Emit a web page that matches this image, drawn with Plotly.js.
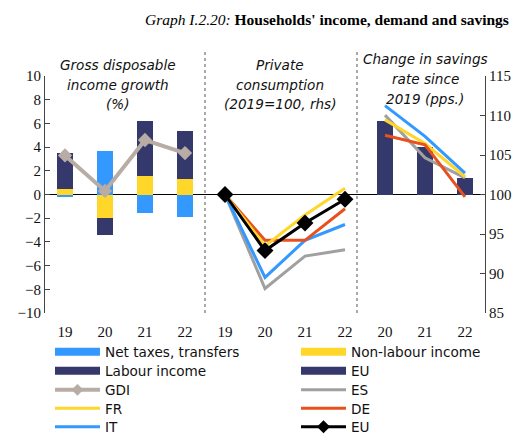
<!DOCTYPE html>
<html><head><meta charset="utf-8">
<script src="https://cdn.plot.ly/plotly-3.0.1.min.js"></script>
<style>html,body{margin:0;padding:0;background:#fff;} #chart{width:527px;height:436px;}</style>
</head><body><div id="chart"></div>
<script>
// Panel 1: Gross disposable income growth (%)
const gdiYears = ['19','20','21','22'];
const netTaxes = [-0.2, 3.7, -1.6, -1.9];
const nonLabour = [0.5, -2.0, 1.6, 1.3];
const labour = [3.0, -1.4, 4.6, 4.1];
const gdi = [3.3, 0.3, 4.6, 3.5];

// Panel 2: Private consumption (2019=100, rhs)
const consYears = ['19','20','21','22'];
const consES = [100, 88.1, 92.2, 93.0];
const consFR = [100, 93.5, 97.4, 100.8];
const consDE = [100, 94.2, 94.2, 98.2];
const consIT = [100, 89.5, 94.2, 96.2];
const consEU = [100, 92.9, 96.4, 99.4];

// Panel 3: Change in savings rate since 2019 (pps.)
const savYears = ['20','21','22'];
const savEU = [6.2, 4.0, 1.4];
const savES = [6.7, 3.1, 1.4];
const savFR = [6.3, 4.3, 1.5];
const savDE = [5.0, 4.2, -0.2];
const savIT = [7.5, 4.9, 1.8];

const C = {blue:'#3399ff', yellow:'#ffd62a', navy:'#34386b', gdi:'#b8aca4', es:'#a0a0a0', de:'#e8511e', eu:'#000000'};

// panel slot offsets on a shared category axis
const off1 = 0, off2 = gdiYears.length, off3 = gdiYears.length + consYears.length;
const xs = (arr, off) => arr.map((_, i) => i + off);
const x1 = xs(gdiYears, off1), x2 = xs(consYears, off2), x3 = xs(savYears, off3);
const tickvals = x1.concat(x2, x3);
const ticktext = gdiYears.concat(consYears, savYears);

const LW = 3;
const traces = [];
const px = p => (p - 45) / 440;
const py = p => (313 - p) / 237;
const legFont = {family:'DejaVu Sans, sans-serif', size:13.6, color:'#111'};
const legends = {};
const legCols = [50, 296];
const legRows = [352, 371, 390, 408.5, 427];
let legN = 0;
// legend-only proxies (wide rectangles / lines), each entry placed in its own legend box
function proxy(name, color, width, col, row, extra) {
  legN += 1;
  const key = legN === 1 ? 'legend' : 'legend' + legN;
  legends[key] = {orientation:'v', x:px(legCols[col]), y:py(legRows[row]), xanchor:'left', yanchor:'middle',
    itemwidth:45, font:legFont, bgcolor:'rgba(0,0,0,0)', borderwidth:0};
  return Object.assign({type:'scatter', mode:'lines', x:[null], y:[null], name:name, legend:key,
    line:{color:color, width:width}, hoverinfo:'skip'}, extra||{});
}
traces.push(proxy('Net taxes, transfers', C.blue, 8, 0, 0));
traces.push(proxy('Non-labour income', C.yellow, 8, 1, 0));
traces.push(proxy('Labour income', C.navy, 8, 0, 1));
traces.push(proxy('EU', C.navy, 8, 1, 1));
traces.push(proxy('GDI', C.gdi, 4, 0, 2, {mode:'lines+markers', marker:{symbol:'diamond', size:9, color:C.gdi}}));
traces.push(proxy('ES', C.es, LW, 1, 2));
traces.push(proxy('FR', C.yellow, LW, 0, 3));
traces.push(proxy('DE', C.de, LW, 1, 3));
traces.push(proxy('IT', C.blue, LW, 0, 4));
traces.push(proxy('EU', C.eu, LW, 1, 4, {mode:'lines+markers', marker:{symbol:'diamond', size:10, color:C.eu}}));

// bars panel 1
const barW = 0.4;
traces.push({type:'bar', x:x1, y:netTaxes, width:barW, marker:{color:C.blue}, showlegend:false});
traces.push({type:'bar', x:x1, y:nonLabour, width:barW, marker:{color:C.yellow}, showlegend:false});
traces.push({type:'bar', x:x1, y:labour, width:barW, marker:{color:C.navy}, showlegend:false});
// bars panel 3
traces.push({type:'bar', x:x3, y:savEU, width:barW, marker:{color:C.navy}, showlegend:false});

// GDI line
traces.push({type:'scatter', mode:'lines+markers', x:x1, y:gdi, line:{color:C.gdi, width:4},
  marker:{symbol:'diamond', size:11, color:C.gdi}, showlegend:false});

// panel 3 lines (lhs)
[[savES,C.es],[savFR,C.yellow],[savDE,C.de],[savIT,C.blue]].forEach(([d,c]) => {
  traces.push({type:'scatter', mode:'lines', x:x3, y:d, line:{color:c, width:LW}, showlegend:false});
});

// panel 2 lines (rhs)
[[consES,C.es],[consIT,C.blue],[consDE,C.de],[consFR,C.yellow]].forEach(([d,c]) => {
  traces.push({type:'scatter', mode:'lines', x:x2, y:d, yaxis:'y2', line:{color:c, width:LW}, showlegend:false});
});
traces.push({type:'scatter', mode:'lines+markers', x:x2, y:consEU, yaxis:'y2', line:{color:C.eu, width:LW},
  marker:{symbol:'diamond', size:13, color:C.eu}, showlegend:false});

const annFont = {family:'DejaVu Sans, sans-serif', size:13.6, color:'#111'};
const anns = [];
function panelTitle(lines, xp, ys) {
  lines.forEach((t, i) => anns.push({text:'<i>' + t + '</i>', xref:'paper', yref:'paper',
    x:px(xp), y:py(ys[i]), showarrow:false, font:annFont, xanchor:'center', yanchor:'middle'}));
}
panelTitle(['Gross disposable', 'income growth', '(%)'], 118, [65, 85, 104]);
panelTitle(['Private', 'consumption', '(2019=100, rhs)'], 280, [65, 85, 104]);
panelTitle(['Change in savings', 'rate since', '2019 (pps.)'], 425, [59, 79, 99]);
anns.push({text:'<i>Graph I.2.20:</i> <b>Households\' income, demand and savings</b>', xref:'paper', yref:'paper',
  x:px(327), y:py(19), xanchor:'center', yanchor:'middle', showarrow:false,
  font:{family:'Liberation Serif, serif', size:15.5, color:'#000'}});

const tf = {family:'Liberation Serif, serif', size:15, color:'#111'};

const layout = Object.assign({
  width:527, height:436,
  margin:{l:45, r:42, t:76, b:123, autoexpand:false},
  paper_bgcolor:'#fff', plot_bgcolor:'#fff',
  barmode:'relative', bargap:0,
  showlegend:true,
  xaxis:{range:[-0.5, 10.5], tickmode:'array', tickvals:tickvals, ticktext:ticktext,
    showgrid:false, zeroline:false, showline:false, ticks:'', ticklabelstandoff:8,
    tickfont:tf, fixedrange:true},
  yaxis:{range:[-10, 10], dtick:2, showgrid:false, zeroline:false, showline:true,
    linecolor:'#444', linewidth:1, ticks:'inside', ticklen:5, tickcolor:'#444', tickfont:tf},
  yaxis2:{range:[85, 115], dtick:5, overlaying:'y', side:'right', showgrid:false, zeroline:false,
    showline:true, linecolor:'#444', linewidth:1, ticks:'inside', ticklen:5, tickcolor:'#444', tickfont:tf},
  shapes:[
    {type:'line', xref:'paper', yref:'y', x0:0, x1:1, y0:0, y1:0, line:{color:'#000', width:1}, layer:'below'},
    {type:'line', xref:'x', yref:'paper', x0:3.5, x1:3.5, y0:0, y1:py(50), line:{color:'#555', width:1, dash:'3px,3px'}},
    {type:'line', xref:'x', yref:'paper', x0:7.3, x1:7.3, y0:0, y1:py(50), line:{color:'#555', width:1, dash:'3px,3px'}}
  ],
  annotations:anns
}, legends);

Plotly.newPlot('chart', traces, layout, {displayModeBar:false, staticPlot:true});
</script></body></html>
